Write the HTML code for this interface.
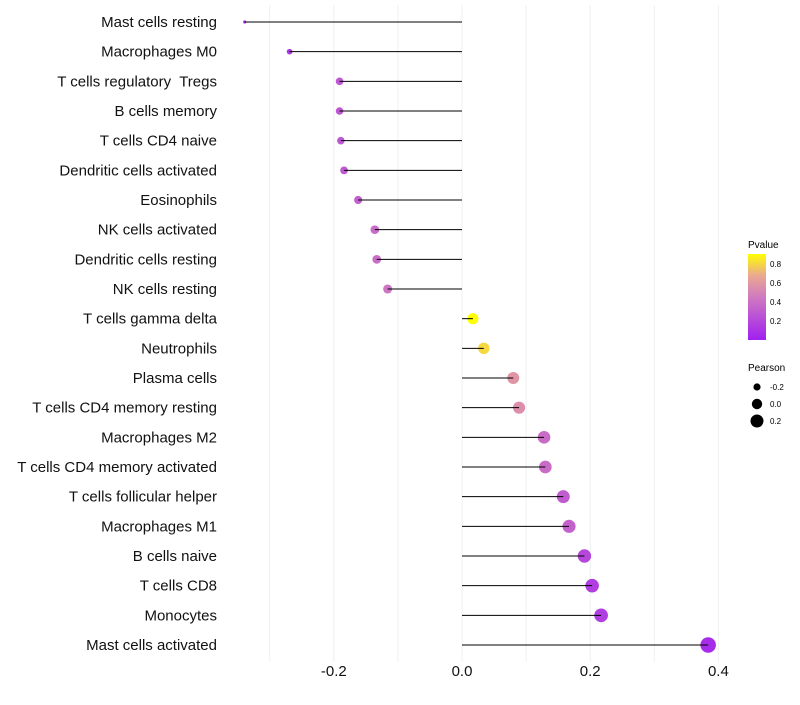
<!DOCTYPE html>
<html><head><meta charset="utf-8"><style>
body{margin:0;background:#fff;font-family:"Liberation Sans",sans-serif}
text{white-space:pre}
</style></head><body>
<svg id="chart" width="800" height="700" xmlns="http://www.w3.org/2000/svg" font-family="Liberation Sans, sans-serif">
<defs><linearGradient id="pg" x1="0" y1="1" x2="0" y2="0">
<stop offset="0" stop-color="#a020f0"/><stop offset="0.5" stop-color="#d07ac0"/><stop offset="0.75" stop-color="#eaa890"/><stop offset="1" stop-color="#ffff00"/></linearGradient></defs>
<g id="grid"></g><g id="marks"></g><g id="labels"></g><g id="xticks"></g>
<g>
<text x="748" y="248" font-size="10">Pvalue</text>
<rect x="748" y="254" width="18" height="86" fill="url(#pg)"/>
<text x="770" y="267" font-size="8">0.8</text><text x="770" y="286" font-size="8">0.6</text>
<text x="770" y="305" font-size="8">0.4</text><text x="770" y="324" font-size="8">0.2</text>
</g>
<g>
<text x="748" y="371" font-size="10">Pearson</text>
<circle cx="757" cy="387" r="3.6"/><text x="770" y="390" font-size="8">-0.2</text>
<circle cx="757" cy="404" r="5.2"/><text x="770" y="407" font-size="8">0.0</text>
<circle cx="757" cy="421" r="6.5"/><text x="770" y="424" font-size="8">0.2</text>
</g>
</svg>
<script>
const categories=["Mast cells resting","Macrophages M0","T cells regulatory  Tregs","B cells memory","T cells CD4 naive","Dendritic cells activated","Eosinophils","NK cells activated","Dendritic cells resting","NK cells resting","T cells gamma delta","Neutrophils","Plasma cells","T cells CD4 memory resting","Macrophages M2","T cells CD4 memory activated","T cells follicular helper","Macrophages M1","B cells naive","T cells CD8","Monocytes","Mast cells activated"];
const pearson=[-0.339,-0.269,-0.191,-0.191,-0.189,-0.184,-0.162,-0.136,-0.133,-0.116,0.017,0.034,0.080,0.089,0.128,0.130,0.158,0.167,0.191,0.203,0.217,0.384];
const pvalues=[0.08,0.12,0.28,0.28,0.28,0.28,0.32,0.38,0.38,0.42,0.9,0.8,0.58,0.55,0.38,0.38,0.3,0.33,0.2,0.15,0.15,0.06];
const xTicks=[-0.2,0,0.2,0.4];
const xGrid=[-0.3,-0.2,-0.1,0,0.1,0.2,0.3,0.4];
const NS="http://www.w3.org/2000/svg";
const x=v=>462+v*641;
const y=i=>22+i*(623/21);
function col(p){const stops=[[0,[160,32,240]],[0.5,[208,122,192]],[0.75,[234,168,144]],[1,[255,255,0]]];const t=Math.max(0,Math.min(1,p/0.9));for(let k=1;k<stops.length;k++){if(t<=stops[k][0]){const a=stops[k-1],b=stops[k],f=(t-a[0])/(b[0]-a[0]);return "rgb("+a[1].map((c,j)=>Math.round(c+(b[1][j]-c)*f)).join(",")+")";}}return "rgb(255,255,0)";}
const rad=v=>Math.sqrt(2.5+(v+0.339)/0.723*58);
function mk(t,a,p){const e=document.createElementNS(NS,t);for(const k in a)e.setAttribute(k,a[k]);p.appendChild(e);return e;}
const g=document.getElementById('grid'),m=document.getElementById('marks'),l=document.getElementById('labels'),xt=document.getElementById('xticks');
xGrid.forEach(v=>{const e=mk('line',{x1:x(v),x2:x(v),y1:5,y2:662,stroke:'#f0f0f0','stroke-width':1},g);

});
categories.forEach((c,i)=>{
const cc=mk('circle',{cx:x(pearson[i]),cy:y(i),r:rad(pearson[i]),fill:col(pvalues[i])},m);


const s=mk('line',{x1:x(0),x2:x(pearson[i]),y1:y(i),y2:y(i),stroke:'#000','stroke-width':1},m);


const t=mk('text',{x:217,y:y(i)+5,'text-anchor':'end','font-size':15,fill:'#111'},l);t.textContent=c;

});
xTicks.forEach(v=>{const t=mk('text',{x:x(v),y:676,'text-anchor':'middle','font-size':15,fill:'#111'},xt);t.textContent=v===0?'0.0':v.toFixed(1);

});
</script>
</body></html>
